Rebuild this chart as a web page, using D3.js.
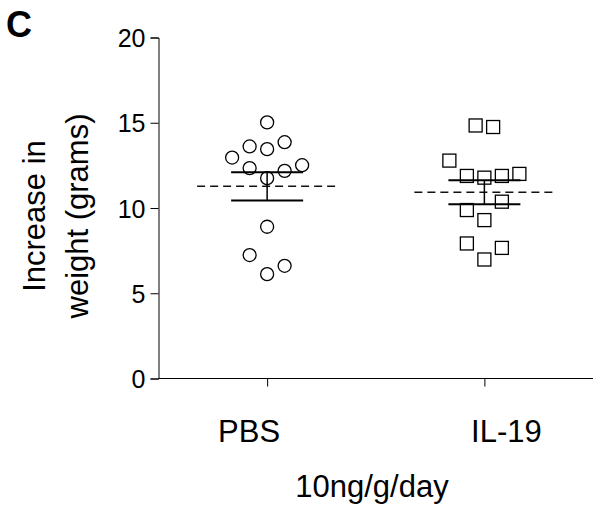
<!DOCTYPE html>
<html>
<head>
<meta charset="utf-8">
<script src="https://cdn.jsdelivr.net/npm/d3@7"></script>
<style>
  body { margin: 0; background: #fff; }
  text { font-family: "Liberation Sans", Arial, sans-serif; fill: #000; }
</style>
</head>
<body>
<div id="chart"></div>
<script>
// data
var groups = ["PBS", "IL-19"];
var pbsValues = [15.02, 13.61, 13.45, 13.86, 12.96, 12.34, 12.18, 12.51, 11.75, 8.90, 7.24, 6.61, 6.12];
var pbsSlots  = [0, -1, 0, 1, -2, -1, 1, 2, 0, 0, -1, 1, 0];
var il19Values = [14.84, 14.75, 12.78, 11.88, 11.78, 11.88, 12.00, 10.37, 9.88, 9.29, 7.92, 7.66, 6.98];
var il19Slots  = [-0.5, 0.5, -2, -1, 0, 1, 2, 1, -1, 0, -1, 1, 0];
var yTicks = [0, 5, 10, 15, 20];

var width = 593, height = 508;
var svg = d3.select('#chart').append('svg')
  .attr('width', width)
  .attr('height', height);

var x = d3.scalePoint().domain(groups).range([158.5, 593]).padding(0.5);
var y = d3.scaleLinear().domain([0, 20]).range([378.5, 37.5]);
var slotW = 17.5;

// axes
var yAxis = svg.append('g')
  .attr('transform', 'translate(158.5,0)')
  .call(d3.axisLeft(y).tickValues(yTicks).tickSize(8).tickPadding(5));
yAxis.selectAll('text').attr('font-size', 25).attr('dy', '0.36em');

var xAxis = svg.append('g')
  .attr('transform', 'translate(0,378.5)')
  .call(d3.axisBottom(x).tickSize(8).tickFormat(''));
xAxis.select('.domain').attr('d', 'M158.5,0H593');

svg.selectAll('.domain, .tick line').attr('stroke', '#000').attr('stroke-width', 1);

// group labels (slightly offset from the ticks as in the original)
var labelShift = { "PBS": -18, "IL-19": 22 };
svg.selectAll('.glabel')
  .data(groups)
  .enter().append('text')
  .attr('class', 'glabel')
  .attr('x', d => x(d) + labelShift[d])
  .attr('y', 442)
  .attr('text-anchor', 'middle')
  .attr('font-size', 31)
  .text(d => d);

svg.append('text')
  .attr('x', 372).attr('y', 497)
  .attr('text-anchor', 'middle')
  .attr('font-size', 31)
  .text('10ng/g/day');

// y label, two lines
var ylab = svg.append('text')
  .attr('transform', 'translate(0,216) rotate(-90)')
  .attr('text-anchor', 'middle')
  .attr('font-size', 31);
ylab.append('tspan').attr('x', 0).attr('y', 45).text('Increase in');
ylab.append('tspan').attr('x', 0).attr('y', 88).text('weight (grams)');

svg.append('text')
  .attr('x', 6).attr('y', 37)
  .attr('font-size', 36)
  .attr('font-weight', 'bold')
  .text('C');

// mean and SEM for each group
function stats(vals) {
  var m = d3.mean(vals);
  var sem = d3.deviation(vals) / Math.sqrt(vals.length);
  return { mean: m, lo: m - sem, hi: m + sem };
}

var series = [
  { name: "PBS", values: pbsValues, slots: pbsSlots, shape: 'circle' },
  { name: "IL-19", values: il19Values, slots: il19Slots, shape: 'square' }
];

series.forEach(s => {
  var st = stats(s.values);
  var cx = x(s.name);
  var g = svg.append('g');

  g.append('line')
    .attr('x1', cx - 70).attr('x2', cx + 70)
    .attr('y1', y(st.mean)).attr('y2', y(st.mean))
    .attr('stroke', '#111').attr('stroke-width', 1.5)
    .attr('stroke-dasharray', '8,5');

  [st.lo, st.hi].forEach(v => {
    g.append('line')
      .attr('x1', cx - 36).attr('x2', cx + 36)
      .attr('y1', y(v)).attr('y2', y(v))
      .attr('stroke', '#000').attr('stroke-width', 2);
  });
  g.append('line')
    .attr('x1', cx).attr('x2', cx)
    .attr('y1', y(st.lo)).attr('y2', y(st.hi))
    .attr('stroke', '#000').attr('stroke-width', 1.5);

  var pts = s.values.map((v, i) => ({ v: v, slot: s.slots[i] }));
  if (s.shape === 'circle') {
    g.selectAll('circle').data(pts).enter().append('circle')
      .attr('cx', d => cx + d.slot * slotW)
      .attr('cy', d => y(d.v))
      .attr('r', 6.5)
      .attr('fill', 'none')
      .attr('stroke', '#000').attr('stroke-width', 1.3);
  } else {
    g.selectAll('rect').data(pts).enter().append('rect')
      .attr('x', d => cx + d.slot * slotW - 6.5)
      .attr('y', d => y(d.v) - 6.5)
      .attr('width', 13).attr('height', 13)
      .attr('fill', 'none')
      .attr('stroke', '#000').attr('stroke-width', 1.3);
  }
});
</script>
</body>
</html>
